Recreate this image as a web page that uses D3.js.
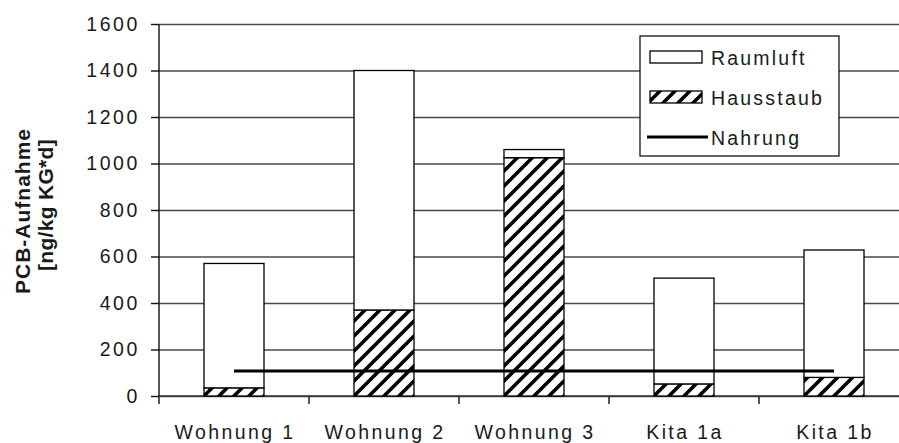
<!DOCTYPE html>
<html>
<head>
<meta charset="utf-8">
<script src="https://cdn.jsdelivr.net/npm/d3@7/dist/d3.min.js"></script>
<style>
  html, body { margin: 0; padding: 0; background: #fff; }
  svg { display: block; }
  text { font-family: "Liberation Sans", Arial, sans-serif; fill: #1a1a1a; }
</style>
</head>
<body>
<svg id="chart" width="899" height="443"></svg>
<script>
// PCB-Aufnahme je Quelle (ng/kg KG*d)
const categories = ["Wohnung 1", "Wohnung 2", "Wohnung 3", "Kita 1a", "Kita 1b"];
const hausstaub = [35, 370, 1025, 52, 80];
const raumluft = [535, 1030, 35, 455, 548];
const nahrung = [108, 108, 108, 108, 108];
const yTicks = [0, 200, 400, 600, 800, 1000, 1200, 1400, 1600];
const legendLabels = ["Raumluft", "Hausstaub", "Nahrung"];

const svg = d3.select("#chart");
const plot = { left: 159, right: 909, top: 24, bottom: 396 };

const x = d3.scaleBand()
  .domain(categories)
  .range([plot.left, plot.right])
  .paddingInner(0.6)
  .paddingOuter(0.3);

const y = d3.scaleLinear()
  .domain([0, 1600])
  .range([plot.bottom, plot.top]);

// hatch pattern for house dust
const defs = svg.append("defs");
const pat = defs.append("pattern")
  .attr("id", "hatch")
  .attr("patternUnits", "userSpaceOnUse")
  .attr("width", 15).attr("height", 15);
pat.append("rect").attr("width", 15).attr("height", 15).attr("fill", "#fff");
pat.append("path")
  .attr("d", "M-3.75,3.75 L3.75,-3.75 M0,15 L15,0 M11.25,18.75 L18.75,11.25")
  .attr("stroke", "#000").attr("stroke-width", 3.6);

// gridlines
svg.append("g")
  .attr("transform", `translate(${plot.left},0)`)
  .call(d3.axisLeft(y).tickValues(yTicks).tickSize(-(plot.right - plot.left)).tickFormat(""))
  .call(g => g.select(".domain").remove())
  .call(g => g.selectAll("line").attr("stroke", "#4a4a4a").attr("stroke-width", 1.4));

// y axis with ticks and labels
svg.append("g")
  .attr("transform", `translate(${plot.left},0)`)
  .call(d3.axisLeft(y).tickValues(yTicks).tickSize(8).tickSizeOuter(0).tickPadding(11).tickFormat(d3.format("d")))
  .call(g => g.select(".domain").attr("stroke", "#111").attr("stroke-width", 1.4)
    .attr("d", `M0,${plot.top}V${plot.bottom + 8}`))
  .call(g => g.selectAll("line").attr("stroke", "#111").attr("stroke-width", 1.4))
  .call(g => g.selectAll("text")
    .style("font-family", "'Liberation Sans', Arial, sans-serif")
    .style("font-size", "19.5px")
    .style("letter-spacing", "2.6px")
    .style("fill", "#1a1a1a"));

// category boundary ticks below the x axis
const bounds = d3.range(1, categories.length + 1).map(i => x.range()[0] + i * x.step());
svg.append("g").selectAll("line").data(bounds).join("line")
  .attr("x1", d => d).attr("x2", d => d)
  .attr("y1", plot.bottom).attr("y2", plot.bottom + 8)
  .attr("stroke", "#111").attr("stroke-width", 1.4);

// x axis line
svg.append("line")
  .attr("x1", plot.left).attr("x2", plot.right)
  .attr("y1", plot.bottom).attr("y2", plot.bottom)
  .attr("stroke", "#333").attr("stroke-width", 1.4);

// category labels
svg.append("g").selectAll("text").data(categories).join("text")
  .attr("x", d => x(d) + x.bandwidth() / 2 + 1)
  .attr("y", 439)
  .attr("text-anchor", "middle")
  .style("font-size", "19.5px")
  .style("letter-spacing", "2.4px")
  .text(d => d);

// stacked bars: house dust at the bottom, indoor air on top
const rows = categories.map((c, i) => ({ cat: c, hausstaub: hausstaub[i], raumluft: raumluft[i] }));
const series = d3.stack().keys(["hausstaub", "raumluft"])(rows);
const fills = { hausstaub: "url(#hatch)", raumluft: "#fff" };

svg.append("g").selectAll("g").data(series).join("g")
  .attr("fill", d => fills[d.key])
  .selectAll("rect").data(d => d).join("rect")
  .attr("x", d => x(d.data.cat))
  .attr("y", d => y(d[1]))
  .attr("width", x.bandwidth())
  .attr("height", d => y(d[0]) - y(d[1]))
  .attr("stroke", "#000")
  .attr("stroke-width", 1.3);

// food intake line
const line = d3.line()
  .x((d, i) => x(categories[i]) + x.bandwidth() / 2)
  .y(d => y(d));
svg.append("path")
  .datum(nahrung)
  .attr("d", line)
  .attr("fill", "none")
  .attr("stroke", "#000")
  .attr("stroke-width", 3);

// y axis title
const title = svg.append("g").attr("transform", "translate(0,211) rotate(-90)");
title.append("text")
  .attr("x", 0).attr("y", 30)
  .attr("text-anchor", "middle")
  .style("font-weight", "bold")
  .style("font-size", "21px")
  .style("letter-spacing", "1px")
  .text("PCB-Aufnahme");
title.append("text")
  .attr("x", 6).attr("y", 53)
  .attr("text-anchor", "middle")
  .style("font-weight", "bold")
  .style("font-size", "21px")
  .style("letter-spacing", "0.3px")
  .text("[ng/kg KG*d]");

// legend
const lg = svg.append("g").attr("transform", "translate(640,36)");
lg.append("rect")
  .attr("width", 199).attr("height", 120)
  .attr("fill", "#fff").attr("stroke", "#000").attr("stroke-width", 1.2);

const rowsY = [21, 61, 101];
lg.append("rect")
  .attr("x", 10).attr("y", rowsY[0] - 6).attr("width", 52).attr("height", 12)
  .attr("fill", "#fff").attr("stroke", "#000").attr("stroke-width", 1.3);
lg.append("rect")
  .attr("x", 10).attr("y", rowsY[1] - 6).attr("width", 52).attr("height", 12)
  .attr("fill", "url(#hatch)").attr("stroke", "#000").attr("stroke-width", 1.3);
lg.append("line")
  .attr("x1", 7).attr("x2", 68).attr("y1", rowsY[2]).attr("y2", rowsY[2])
  .attr("stroke", "#000").attr("stroke-width", 3);

lg.selectAll("text.lab").data(legendLabels).join("text")
  .attr("class", "lab")
  .attr("x", 71)
  .attr("y", (d, i) => rowsY[i] + 8)
  .style("font-size", "19.5px")
  .style("letter-spacing", "2.2px")
  .text(d => d);
</script>
</body>
</html>
